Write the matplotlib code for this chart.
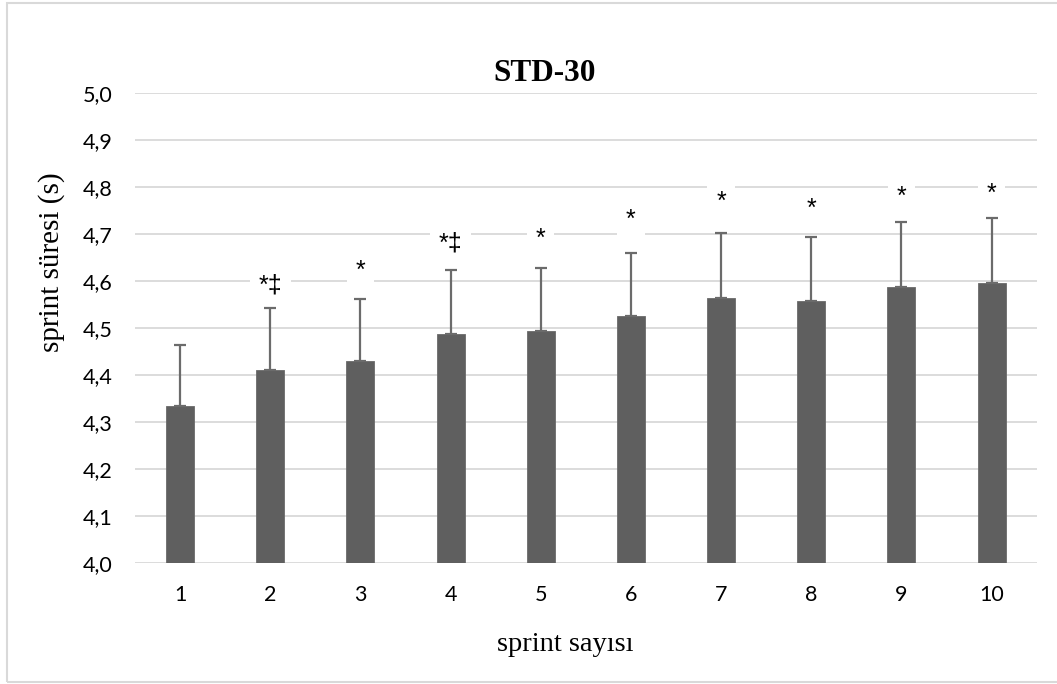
import matplotlib.pyplot as plt
from matplotlib.patches import Rectangle
from matplotlib.ticker import FuncFormatter

# sprint times (mean and SD, seconds)
sprints = [1, 2, 3, 4, 5, 6, 7, 8, 9, 10]
means = [4.333, 4.410, 4.430, 4.487, 4.493, 4.524, 4.563, 4.556, 4.586, 4.596]
sds = [0.131, 0.132, 0.132, 0.135, 0.135, 0.135, 0.138, 0.138, 0.139, 0.138]

# significance marks above the bars
marks = ['', '*‡', '*', '*‡', '*', '*', '*', '*', '*', '*']
mark_y = [0, 4.590, 4.620, 4.680, 4.690, 4.730, 4.767, 4.752, 4.779, 4.785]

fig = plt.figure(figsize=(10.57, 6.84), dpi=100)
ax = fig.add_axes([0.1277, 0.1773, 0.8531, 0.6872])

# chart area border
fig.patches.append(Rectangle((7 / 1057, 2 / 684), 1.1, 679 / 684, transform=fig.transFigure,
                             fill=False, edgecolor='#d9d9d9', linewidth=1.5, zorder=0))

ax.bar(sprints, means, width=0.31, color='#5f5f5f', edgecolor='#6a6a6a', linewidth=0.6, zorder=2)
ax.errorbar(sprints, means, yerr=[[0] * len(sds), sds], fmt='none', ecolor='#6b6b6b',
            elinewidth=1.6, capsize=4, capthick=1.6, zorder=3)

for x, m, y in zip(sprints, marks, mark_y):
    if m:
        ax.text(x, y, m, ha='center', va='center', fontsize=18,
                family=['Liberation Sans', 'DejaVu Sans'], color='black', zorder=4,
                bbox=dict(boxstyle='square,pad=0.35', facecolor='white', edgecolor='none'))

ax.set_xlim(0.5, 10.5)
ax.set_ylim(4.0, 5.0)
ax.set_xticks(sprints)
ax.set_yticks([4.0 + i * 0.1 for i in range(11)])
ax.yaxis.set_major_formatter(FuncFormatter(lambda v, p: f'{v:.1f}'.replace('.', ',')))
ax.grid(axis='y', color='#d9d9d9', linewidth=1.3, zorder=0)
ax.set_axisbelow(True)
for s in ax.spines.values():
    s.set_visible(False)
ax.tick_params(length=0, labelsize=15.5, colors='black')
ax.tick_params(axis='x', pad=16)
ax.tick_params(axis='y', pad=16)
for lbl in ax.get_xticklabels() + ax.get_yticklabels():
    lbl.set_family('Lato')

fig.text(0.515, 0.893, 'STD-30', ha='center', va='center', fontsize=22.5,
         fontweight='bold', family='Liberation Serif')
fig.text(0.535, 0.058, 'sprint sayısı', ha='center', va='center', fontsize=20.5,
         family='Liberation Serif')
fig.text(0.049, 0.616, 'sprint süresi (s)', ha='center', va='center', rotation=90,
         fontsize=21, family='Liberation Serif')

plt.savefig('out.png', dpi=100)
